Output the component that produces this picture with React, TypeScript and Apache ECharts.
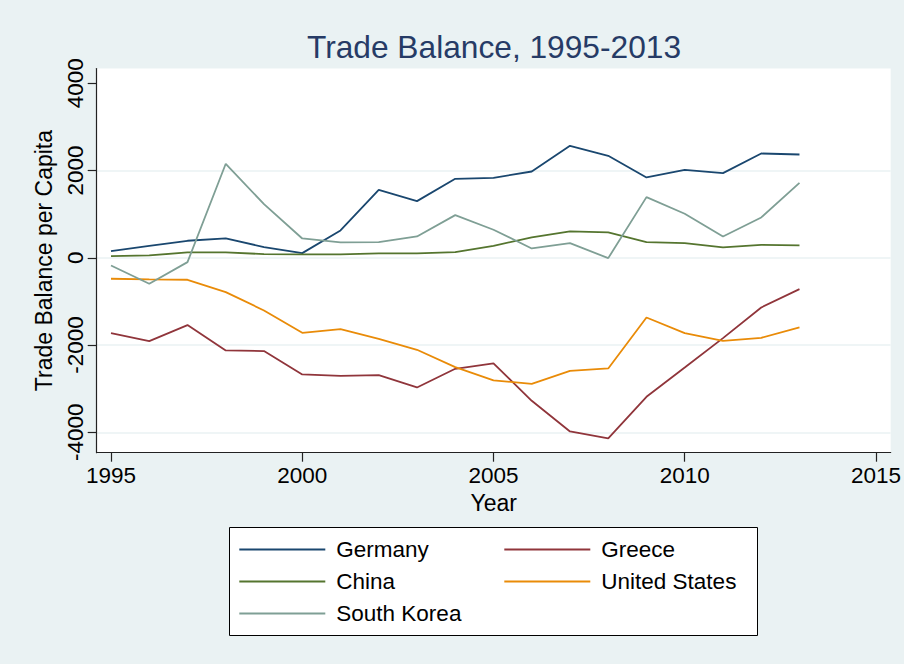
import React, { useEffect, useRef } from "react";
import * as echarts from "echarts";

const years = [1995, 1996, 1997, 1998, 1999, 2000, 2001, 2002, 2003, 2004, 2005, 2006, 2007, 2008, 2009, 2010, 2011, 2012, 2013];
const germany = [153, 275, 390, 443, 245, 107, 626, 1559, 1299, 1811, 1834, 1978, 2567, 2338, 1841, 2017, 1941, 2391, 2368];
const greece = [-1727, -1910, -1543, -2124, -2139, -2674, -2705, -2690, -2972, -2545, -2422, -3278, -3981, -4141, -3186, -2514, -1841, -1139, -717];
const china = [38, 53, 122, 122, 84, 76, 76, 99, 99, 130, 275, 466, 604, 581, 359, 336, 237, 298, 283];
const unitedStates = [-481, -497, -504, -787, -1207, -1719, -1635, -1857, -2109, -2506, -2812, -2888, -2590, -2537, -1368, -1727, -1903, -1834, -1597];
const southKorea = [-176, -596, -99, 2155, 1230, 443, 352, 359, 489, 978, 642, 214, 336, -8, 1391, 1009, 489, 925, 1719];

const xTicks = [1995, 2000, 2005, 2010, 2015];
const yTicks = [-4000, -2000, 0, 2000, 4000];

const seriesDefs = [
  { name: "Germany", values: germany, color: "#1a476f" },
  { name: "Greece", values: greece, color: "#90353b" },
  { name: "China", values: china, color: "#55752f" },
  { name: "United States", values: unitedStates, color: "#e98b08" },
  { name: "South Korea", values: southKorea, color: "#7f9f95" },
];

const FONT = "'Liberation Sans', Arial, Helvetica, sans-serif";
const BG = "#eaf2f3";

export default function App() {
  const ref = useRef<HTMLDivElement>(null);
  useEffect(() => {
    if (!ref.current) return;
    const chart = echarts.init(ref.current, null, { renderer: "svg" });
    chart.setOption({
      animation: false,
      backgroundColor: BG,
      textStyle: { fontFamily: FONT },
      graphic: [
        {
          type: "text",
          x: 494,
          y: 46.5,
          style: {
            text: "Trade Balance, 1995-2013",
            fontFamily: FONT,
            fontSize: 31.7,
            fill: "#263b66",
            textAlign: "center",
            textVerticalAlign: "middle",
          },
        },
        {
          type: "rect",
          shape: { x: 229.5, y: 527.5, width: 528, height: 108 },
          style: { fill: "#ffffff", stroke: "#000000", lineWidth: 1 },
          z: -1,
        },
      ],
      grid: {
        left: 96.7,
        right: 13.3,
        top: 68.5,
        bottom: 211.3,
        show: true,
        backgroundColor: "#ffffff",
        borderWidth: 0,
        containLabel: false,
      },
      xAxis: {
        type: "value",
        min: 1994.626,
        max: 2015.384,
        name: "Year",
        nameLocation: "middle",
        nameGap: 38,
        nameTextStyle: { fontSize: 23, color: "#000", fontFamily: FONT },
        axisLine: { show: true, onZero: false, lineStyle: { color: "#222", width: 1.2 } },
        axisTick: { show: true, length: 9, customValues: xTicks, lineStyle: { color: "#222", width: 1.2 } },
        axisLabel: { customValues: xTicks, fontSize: 22.5, color: "#000", margin: 11, fontFamily: FONT, formatter: (v: number) => String(v) },
        splitLine: { show: false },
      },
      yAxis: {
        type: "value",
        min: -4468,
        max: 4339,
        name: "Trade Balance per Capita",
        nameLocation: "middle",
        nameGap: 41,
        nameTextStyle: { fontSize: 23, color: "#000", fontFamily: FONT },
        axisLine: { show: true, onZero: false, lineStyle: { color: "#222", width: 1.2 } },
        axisTick: { show: true, length: 9, customValues: yTicks, lineStyle: { color: "#222", width: 1.2 } },
        axisLabel: { customValues: yTicks, rotate: 90, fontSize: 22.5, color: "#000", margin: 10, fontFamily: FONT, formatter: (v: number) => String(v) },
        splitLine: {
          show: true,
          lineStyle: { color: [BG, BG, BG, BG, "rgba(0,0,0,0)"], width: 1.5 },
        },
      },
      legend: {
        left: 239.3,
        top: 538,
        width: 530,
        orient: "horizontal",
        padding: 0,
        itemGap: 9,
        itemWidth: 86,
        itemHeight: 2,
        icon: "rect",
        data: seriesDefs.map((s) => s.name),
        textStyle: {
          fontSize: 22.5,
          color: "#000",
          fontFamily: FONT,
          width: 159,
          lineHeight: 20,
          padding: [0, 0, 0, 6],
        },
      },
      series: seriesDefs.map((s) => ({
        name: s.name,
        type: "line",
        data: years.map((y, i) => [y, s.values[i]]),
        showSymbol: false,
        symbol: "none",
        color: s.color,
        itemStyle: { color: s.color },
        lineStyle: { color: s.color, width: 1.8 },
        emphasis: { disabled: true },
      })),
    });
    return () => chart.dispose();
  }, []);
  return (
    <div
      ref={ref}
      style={{ position: "fixed", left: 0, top: 0, width: 904, height: 664 }}
    />
  );
}
